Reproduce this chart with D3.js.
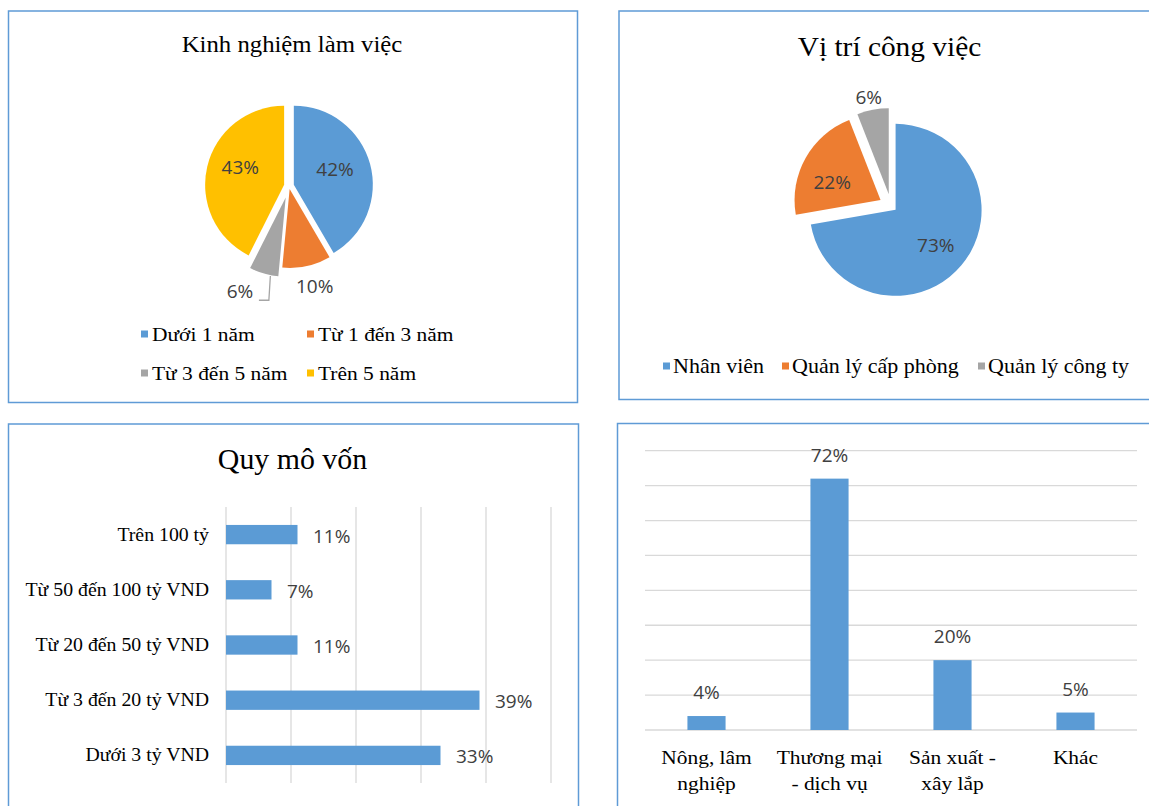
<!DOCTYPE html>
<html>
<head>
<meta charset="utf-8">
<script src="https://cdn.jsdelivr.net/npm/d3@7"></script>
<style>
  body { margin: 0; background: #fff; }
  svg { display: block; }
</style>
</head>
<body>
<script>
// ---- Data ----
// Kinh nghiệm làm việc
const expCategories = ["Dưới 1 năm", "Từ 1 đến 3 năm", "Từ 3 đến 5 năm", "Trên 5 năm"];
const expValues = [42, 10, 6, 43];
// Vị trí công việc
const posCategories = ["Nhân viên", "Quản lý cấp phòng", "Quản lý công ty"];
const posValues = [73, 22, 6];
// Quy mô vốn
const capCategories = ["Trên 100 tỷ", "Từ 50 đến 100 tỷ VND", "Từ 20 đến 50 tỷ VND", "Từ 3 đến 20 tỷ VND", "Dưới 3 tỷ VND"];
const capValues = [11, 7, 11, 39, 33];
const capTicks = [0, 10, 20, 30, 40, 50];
// Lĩnh vực hoạt động
const sectorCategories = [["Nông, lâm", "nghiệp"], ["Thương mại", "- dịch vụ"], ["Sản xuất -", "xây lắp"], ["Khác"]];
const sectorValues = [4, 72, 20, 5];
const sectorTicks = [0, 10, 20, 30, 40, 50, 60, 70, 80];

// ---- Styles ----
const W = 1149, H = 806;
const BLUE = "#5B9BD5", ORANGE = "#ED7D31", GRAY = "#A5A5A5", GOLD = "#FFC000";
const FRAME = "#5F9BD6", GRID = "#D9D9D9", LABEL = "#404040";
const SERIF = "'Liberation Serif','Times New Roman',serif";
const SANS = "'Open Sans','Noto Sans',sans-serif";

const svg = d3.select("body").append("svg").attr("width", W).attr("height", H);

// Serif text, slightly widened like the document's typeface
function stext(parent, x, y, str, size, sx, anchor = "middle") {
  return parent.append("text")
    .attr("transform", `translate(${x},${y}) scale(${sx},1)`)
    .attr("text-anchor", anchor)
    .attr("font-family", SERIF)
    .attr("font-size", size)
    .attr("fill", "#000")
    .text(str);
}
function ltext(parent, x, y, str, anchor = "middle") {
  return parent.append("text")
    .attr("x", x).attr("y", y)
    .attr("text-anchor", anchor)
    .attr("dominant-baseline", "central")
    .attr("font-family", SANS)
    .attr("font-size", 19)
    .attr("fill", LABEL)
    .text(str);
}

// ---- Panel frames ----
const frames = [
  { x: 8.5, y: 11, w: 569, h: 391.5 },
  { x: 619, y: 11, w: 560, h: 388.5 },
  { x: 8.5, y: 424, w: 570, h: 420 },
  { x: 617.5, y: 423.5, w: 560, h: 420 }
];
svg.selectAll("rect.frame").data(frames).join("rect")
  .attr("class", "frame")
  .attr("x", d => d.x).attr("y", d => d.y)
  .attr("width", d => d.w).attr("height", d => d.h)
  .attr("fill", "none").attr("stroke", FRAME).attr("stroke-width", 1.5);

// ---- Pie helper ----
function drawPie(cfg) {
  const arcs = d3.pie().sort(null).value(d => d)(cfg.values);
  const arc = d3.arc().innerRadius(0).outerRadius(cfg.r);
  const g = svg.append("g").attr("transform", `translate(${cfg.cx},${cfg.cy})`);
  arcs.forEach((p, i) => {
    const mid = (p.startAngle + p.endAngle) / 2;
    const dx = Math.sin(mid) * cfg.explode[i], dy = -Math.cos(mid) * cfg.explode[i];
    g.append("path")
      .attr("d", arc(p))
      .attr("transform", `translate(${dx},${dy})`)
      .attr("fill", cfg.colors[i]);
    const la = mid + cfg.labelShift[i] * Math.PI / 180;
    const lr = cfg.labelR[i] * cfg.r;
    const lx = dx + Math.sin(la) * lr, ly = dy - Math.cos(la) * lr;
    ltext(g, lx, ly, cfg.values[i] + "%");
    if (cfg.leader && cfg.leader[i] != null) {
      const a = mid + cfg.leader[i] * Math.PI / 180;
      const sx = dx + Math.sin(a) * (cfg.r + 1), sy = dy - Math.cos(a) * (cfg.r + 1);
      g.append("polyline")
        .attr("points", [[sx, sy], [sx - 1.5, ly + 9], [lx + 19, ly + 9]].map(q => q.join(",")).join(" "))
        .attr("fill", "none").attr("stroke", GRAY).attr("stroke-width", 1.3);
    }
  });
}

// ---- Panel 1: Kinh nghiệm làm việc ----
stext(svg, 292, 52, "Kinh nghiệm làm việc", 22.5, 1.1);
drawPie({
  values: expValues, colors: [BLUE, ORANGE, GRAY, GOLD],
  cx: 289, cy: 186, r: 79,
  explode: [5, 3, 12, 5],
  labelR: [0.56, 1.27, 1.32, 0.6],
  labelShift: [-6, -2, 10, 9],
  leader: [null, null, -5, null]
});
const leg1 = [
  { x: 141, y: 334 }, { x: 307, y: 334 },
  { x: 141, y: 373 }, { x: 307, y: 373 }
];
const expColors = [BLUE, ORANGE, GRAY, GOLD];
expCategories.forEach((c, i) => {
  svg.append("rect").attr("x", leg1[i].x).attr("y", leg1[i].y - 3.5)
    .attr("width", 7).attr("height", 7).attr("fill", expColors[i]);
  stext(svg, leg1[i].x + 11, leg1[i].y + 7, c, 19.5, 1.1, "start");
});

// ---- Panel 2: Vị trí công việc ----
stext(svg, 889.5, 56, "Vị trí công việc", 28, 1.05);
drawPie({
  values: posValues, colors: [BLUE, ORANGE, GRAY],
  cx: 891, cy: 206, r: 86,
  explode: [6, 12, 12],
  labelR: [0.62, 0.6, 1.15],
  labelShift: [1, -9, -1]
});
const leg2 = [{ x: 663, y: 366 }, { x: 782, y: 366 }, { x: 978, y: 366 }];
const posColors = [BLUE, ORANGE, GRAY];
posCategories.forEach((c, i) => {
  svg.append("rect").attr("x", leg2[i].x).attr("y", leg2[i].y - 3.5)
    .attr("width", 7).attr("height", 7).attr("fill", posColors[i]);
  stext(svg, leg2[i].x + 10, leg2[i].y + 7, c, 20, 1.1, "start");
});

// ---- Panel 3: Quy mô vốn (horizontal bars) ----
stext(svg, 292.5, 469, "Quy mô vốn", 29, 1.03);
const capX = d3.scaleLinear().domain([0, 50]).range([226, 551]);
const capY = d3.scaleBand().domain(capCategories).range([507, 783])
  .paddingInner(0.65).paddingOuter(0.325);
const g3 = svg.append("g");
g3.selectAll("line.grid").data(capTicks).join("line")
  .attr("x1", d => capX(d)).attr("x2", d => capX(d))
  .attr("y1", 507).attr("y2", 783)
  .attr("stroke", GRID).attr("stroke-width", 1.3);
g3.selectAll("rect.bar").data(capValues).join("rect")
  .attr("x", capX(0))
  .attr("y", (d, i) => capY(capCategories[i]))
  .attr("width", d => capX(d) - capX(0))
  .attr("height", capY.bandwidth())
  .attr("fill", BLUE);
capValues.forEach((v, i) => {
  const yc = capY(capCategories[i]) + capY.bandwidth() / 2;
  ltext(g3, capX(v) + 15.5, yc + 1, v + "%", "start");
  stext(g3, 209, yc + 6, capCategories[i], 18, 1.1, "end");
});

// ---- Panel 4: Lĩnh vực (columns) ----
const secX = d3.scaleBand().domain(d3.range(sectorValues.length)).range([645, 1137])
  .paddingInner(0.69).paddingOuter(0.345);
const secY = d3.scaleLinear().domain([0, 80]).range([730, 450.7]);
const g4 = svg.append("g");
g4.selectAll("line.grid").data(sectorTicks).join("line")
  .attr("x1", 645).attr("x2", 1137)
  .attr("y1", d => secY(d)).attr("y2", d => secY(d))
  .attr("stroke", GRID).attr("stroke-width", 1.3);
g4.selectAll("rect.bar").data(sectorValues).join("rect")
  .attr("x", (d, i) => secX(i))
  .attr("y", d => secY(d))
  .attr("width", secX.bandwidth())
  .attr("height", d => secY(0) - secY(d))
  .attr("fill", BLUE);
sectorValues.forEach((v, i) => {
  const xc = secX(i) + secX.bandwidth() / 2;
  ltext(g4, xc, secY(v) - 24, v + "%");
  sectorCategories[i].forEach((line, k) => {
    stext(g4, xc, 763.5 + k * 26, line, 19.5, 1.1);
  });
});
</script>
</body>
</html>
